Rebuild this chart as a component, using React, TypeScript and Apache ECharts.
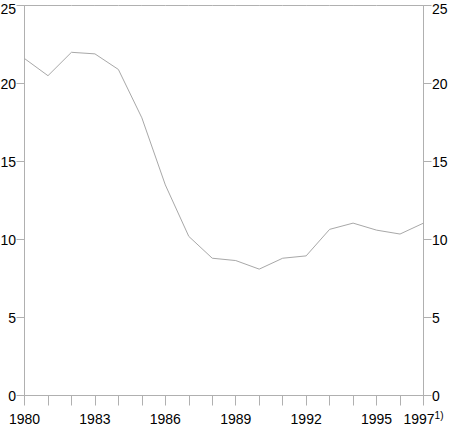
import React, { useEffect, useRef } from "react";
import * as echarts from "echarts";

const years = ["1980","1981","1982","1983","1984","1985","1986","1987","1988","1989","1990","1991","1992","1993","1994","1995","1996","1997"];
const values = [21.6, 20.5, 22.0, 21.9, 20.9, 17.8, 13.5, 10.2, 8.8, 8.65, 8.1, 8.8, 8.95, 10.65, 11.05, 10.6, 10.35, 11.05];
const yTicks = [0, 5, 10, 15, 20, 25];

const FONT = "'Liberation Sans', Arial, sans-serif";

export default function App() {
  const ref = useRef<HTMLDivElement>(null);
  useEffect(() => {
    if (!ref.current) return;
    const chart = echarts.init(ref.current, undefined, { renderer: "svg" });
    const axisColor = "#b0b0b0";
    const yMax = yTicks[yTicks.length - 1];
    const yAxisCommon = {
      type: "value" as const,
      min: yTicks[0],
      max: yMax,
      interval: 5,
      axisLine: { show: true, onZero: false, lineStyle: { color: axisColor, width: 1 } },
      axisTick: { show: true, inside: false, length: 8, lineStyle: { color: axisColor, width: 1 } },
      splitLine: { show: false },
      axisLabel: {
        show: true,
        color: "#000",
        fontSize: 14,
        lineHeight: 11,
        fontFamily: FONT,
        margin: 8.5,
        formatter: (v: number) => (v === yMax ? "{t|" + v + "}" : String(v)),
        rich: { t: { fontSize: 14, lineHeight: 11, fontFamily: FONT, color: "#000", padding: [6, 0, 0, 0] } },
      },
    };
    chart.setOption({
      animation: false,
      backgroundColor: "#fff",
      grid: {
        left: 24.5,
        right: 26.5,
        top: 5.5,
        bottom: 29.5,
        containLabel: false,
        outerBoundsMode: "none",
      },
      xAxis: {
        type: "category",
        data: years,
        boundaryGap: false,
        axisLine: { show: true, onZero: false, lineStyle: { color: axisColor } },
        axisTick: { show: true, inside: false, length: 10, interval: 0, lineStyle: { color: axisColor, width: 1 } },
        splitLine: { show: false },
        axisLabel: {
          interval: 0,
          color: "#000",
          fontSize: 14,
          lineHeight: 16,
          fontFamily: FONT,
          margin: 15,
          formatter: (v: string, i: number) => {
            if (i === years.length - 1) return v + "{sup|1)}";
            return i % 3 === 0 ? v : "";
          },
          rich: { sup: { fontSize: 10, lineHeight: 10, fontFamily: FONT, color: "#000", verticalAlign: "top" } },
        },
      },
      yAxis: [
        { ...yAxisCommon, position: "left" },
        { ...yAxisCommon, position: "right" },
      ],
      series: [
        {
          type: "line",
          data: values,
          yAxisIndex: 0,
          symbol: "none",
          lineStyle: { color: "#a8a8a8", width: 1 },
        },
        {
          type: "line",
          data: years.map(() => yMax),
          yAxisIndex: 0,
          symbol: "none",
          silent: true,
          lineStyle: { color: axisColor, width: 1 },
        },
      ],
    });
    return () => chart.dispose();
  }, []);
  return <div ref={ref} style={{ position: "fixed", left: 0, top: 0, width: 450, height: 425 }} />;
}
